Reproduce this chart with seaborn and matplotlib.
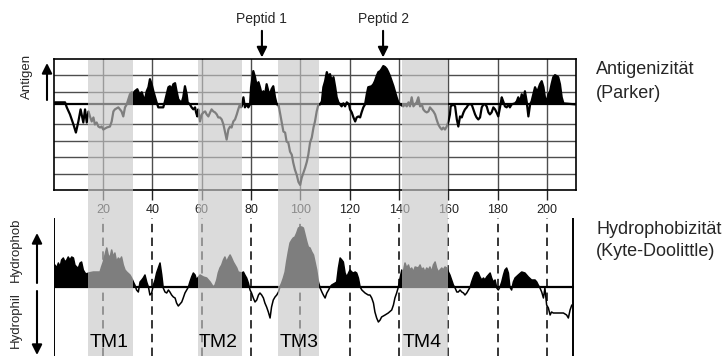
import numpy as np
import pandas as pd
import matplotlib
matplotlib.use("Agg")
import matplotlib.pyplot as plt
import seaborn as sns

# Parker antigenicity profile (residue position, value)
parker_pos = [
    0.5, 4.6, 5.3, 6.6, 8.0, 9.0, 10.0, 10.9, 11.6, 12.0, 12.7, 13.4,
    14.1, 14.7, 15.4, 16.1, 16.7, 17.4, 18.1, 18.8, 19.4, 20.1, 21.5, 22.8,
    23.5, 24.2, 24.8, 26.2, 27.5, 28.2, 28.9, 29.6, 30.9, 31.6, 32.3, 32.9,
    33.9, 34.7, 35.7, 36.3, 37.0, 37.7, 38.4, 39.0, 39.7, 40.4, 41.1, 41.7,
    42.4, 44.4, 45.1, 45.8, 46.5, 47.1, 47.8, 48.5, 49.2, 49.8, 50.5, 51.2,
    51.9, 52.5, 53.2, 53.9, 54.3, 55.2, 55.9, 56.6, 57.3, 57.7, 58.2, 58.6,
    59.3, 60.0, 60.7, 61.4, 62.0, 62.7, 63.4, 64.0, 64.7, 65.4, 66.1, 66.7,
    67.4, 68.1, 68.8, 69.4, 70.1, 70.8, 71.5, 72.1, 72.8, 73.5, 74.2, 74.8,
    75.5, 75.9, 76.2, 76.9, 77.5, 78.2, 78.9, 79.6, 80.0, 80.9, 81.6, 82.3,
    83.0, 83.6, 84.3, 85.0, 85.6, 86.3, 87.0, 87.7, 88.3, 89.0, 89.7, 90.4,
    91.1, 91.7, 92.4, 93.1, 93.8, 94.4, 95.1, 95.8, 96.5, 97.1, 97.8, 98.5,
    99.2, 99.9, 100.5, 101.2, 101.9, 102.6, 103.2, 103.9, 104.6, 105.3, 105.9, 106.6,
    107.3, 108.0, 108.7, 109.3, 110.0, 110.7, 111.4, 112.0, 112.7, 113.4, 114.1, 114.7,
    115.4, 116.7, 117.4, 118.1, 118.8, 119.7, 120.1, 120.8, 121.5, 122.2, 122.8, 123.5,
    124.2, 124.8, 125.5, 126.2, 126.9, 127.5, 128.9, 129.6, 130.2, 130.9, 131.6, 132.3,
    132.9, 133.6, 134.3, 135.0, 135.6, 136.3, 137.0, 137.7, 138.3, 139.0, 139.7, 140.4,
    141.7, 142.4, 143.1, 143.8, 144.4, 145.1, 145.8, 147.1, 147.8, 148.5, 149.2, 149.8,
    150.5, 151.2, 151.9, 152.5, 153.2, 153.9, 154.6, 155.2, 155.9, 156.6, 157.3, 157.9,
    158.6, 159.3, 160.0, 160.6, 160.9, 162.0, 162.7, 163.4, 164.0, 164.7, 165.4, 166.1,
    166.7, 167.4, 168.1, 169.4, 170.1, 170.8, 171.4, 172.1, 172.8, 173.5, 174.2, 174.8,
    175.5, 176.2, 176.8, 177.5, 178.2, 178.9, 179.5, 180.2, 180.9, 181.6, 182.2, 182.9,
    183.6, 184.3, 184.9, 185.6, 187.0, 187.7, 188.3, 189.0, 189.7, 190.4, 191.0, 191.7,
    192.4, 193.1, 193.7, 194.4, 195.1, 195.8, 196.4, 197.1, 197.8, 198.5, 199.1, 199.8,
    200.5, 201.2, 201.8, 202.5, 203.2, 203.9, 204.5, 205.2, 205.9, 206.6, 211.3,
]
parker_val = [
    2, 2, -3, -10, -20, -28, -17, -5, -13, -18, -5, -18,
    -7, -12, -17, -13, -20, -18, -22, -23, -22, -25, -23, -22,
    -17, -7, -5, -3, -7, -12, -3, 0, 10, 12, 11, 13,
    15, 10, 12, 7, 5, 13, 17, 25, 20, 13, 7, 2,
    -3, -3, 3, 10, 17, 18, 15, 20, 21, 13, 5, 3,
    2, 7, 18, 10, 2, 0, -3, -5, -3, -8, -12, -5,
    -17, -10, -8, -7, -10, -12, -8, -5, -7, -8, -10, -13,
    -13, -15, -20, -27, -35, -25, -22, -23, -17, -15, -10, -5,
    0, -3, -2, 7, -3, 0, -3, 0, 17, 33, 27, 18,
    22, 17, 10, 13, 8, 20, 13, 10, 15, 18, 7, 0,
    0, -8, -17, -27, -28, -37, -38, -47, -50, -58, -65, -70,
    -77, -80, -73, -68, -63, -57, -50, -38, -33, -23, -17, -7,
    0, 0, 3, 17, 23, 32, 27, 30, 23, 27, 17, 7,
    2, -2, 1, -2, 2, 0, -5, -8, -13, -17, -13, -12,
    -13, -8, -3, 0, 10, 17, 18, 20, 23, 28, 32, 33,
    35, 38, 37, 35, 32, 28, 23, 18, 13, 7, 2, 0,
    -2, 0, -2, 2, -2, 7, -2, 2, 7, -2, 0, -5,
    -7, -8, -7, -3, -5, -7, -10, -15, -20, -23, -25, -23,
    -25, -22, -17, -10, -2, 0, -2, -15, -22, -12, -13, -8,
    -5, -3, 0, 0, -5, -10, -13, -15, -13, -3, 0, 0,
    -2, -8, -10, -8, -3, -5, -8, -12, -3, 7, 3, -2,
    -3, 0, -3, 0, 1, 3, 7, 2, 10, 5, 13, 3,
    -12, 0, 3, 10, 17, 13, 15, 20, 23, 17, 7, 2,
    10, 13, 20, 27, 29, 28, 27, 20, 7, 1, 0,
]

# Kyte-Doolittle hydrophobicity profile (residue position, value)
kd_pos = [
    0.0, 0.5, 1.2, 1.9, 2.6, 3.2, 3.9, 4.6, 5.3, 5.9, 6.6, 7.3,
    8.0, 8.6, 9.3, 10.0, 10.7, 11.3, 12.0, 12.7, 13.4, 14.1, 16.1, 17.4,
    18.8, 19.4, 20.1, 20.8, 21.5, 22.1, 22.8, 23.5, 24.2, 24.8, 25.5, 26.2,
    26.9, 27.5, 28.2, 28.9, 29.6, 30.9, 31.6, 32.3, 32.9, 33.6, 34.3, 35.0,
    35.7, 36.3, 37.0, 37.7, 38.4, 39.0, 39.7, 40.4, 41.1, 41.7, 42.4, 43.1,
    43.8, 44.4, 45.1, 45.8, 46.5, 47.1, 47.8, 48.5, 49.2, 49.8, 50.5, 51.2,
    51.9, 52.5, 53.2, 53.9, 54.6, 55.2, 55.9, 56.6, 57.3, 57.9, 58.4, 59.3,
    60.7, 62.0, 63.4, 64.7, 65.4, 66.1, 66.7, 67.4, 68.1, 68.8, 69.4, 70.1,
    70.8, 71.5, 72.1, 72.8, 73.5, 74.2, 74.8, 76.2, 76.9, 77.5, 78.2, 78.9,
    79.6, 80.2, 80.9, 81.6, 82.3, 83.0, 83.6, 84.3, 85.0, 85.6, 86.3, 87.0,
    87.7, 88.3, 89.0, 89.7, 90.4, 91.1, 91.7, 92.4, 93.1, 93.8, 94.4, 95.1,
    95.8, 96.5, 97.1, 97.8, 98.5, 99.2, 99.9, 100.5, 101.2, 101.9, 102.6, 103.2,
    103.9, 104.6, 105.3, 105.9, 106.6, 107.3, 108.0, 108.7, 109.3, 110.0, 110.7, 111.4,
    112.0, 112.7, 114.1, 114.7, 115.4, 116.1, 116.8, 117.4, 118.1, 118.8, 119.5, 120.1,
    120.8, 121.5, 122.2, 122.8, 123.5, 124.2, 124.9, 126.2, 127.5, 128.2, 128.9, 129.6,
    130.2, 130.9, 131.6, 132.3, 132.9, 134.3, 135.6, 137.0, 137.7, 138.3, 139.0, 139.7,
    140.4, 141.1, 141.7, 142.4, 143.1, 143.8, 144.4, 145.1, 145.8, 146.5, 147.8, 148.5,
    149.2, 149.8, 150.5, 151.2, 151.9, 152.5, 153.2, 153.9, 154.6, 155.2, 155.9, 156.6,
    157.3, 157.9, 158.6, 159.3, 160.0, 160.6, 161.3, 162.0, 162.7, 163.4, 164.0, 164.7,
    165.4, 166.1, 166.7, 167.4, 168.1, 168.8, 169.4, 170.1, 170.8, 171.5, 172.1, 172.8,
    173.5, 174.2, 174.8, 175.5, 176.2, 176.9, 177.5, 178.2, 178.9, 179.6, 180.2, 180.9,
    181.6, 182.3, 182.9, 183.6, 184.3, 184.9, 185.6, 186.3, 187.0, 188.3, 189.7, 191.0,
    192.4, 193.7, 195.1, 195.8, 196.4, 197.1, 197.8, 198.5, 199.1, 199.8, 200.5, 201.2,
    201.8, 202.5, 203.9, 205.2, 206.6, 207.9, 208.6, 209.3, 210.0,
]
kd_val = [
    14, 22, 19, 24, 20, 27, 29, 25, 27, 30, 27, 30,
    29, 22, 20, 19, 24, 25, 17, 14, 13, 14, 15, 15,
    15, 20, 25, 32, 39, 32, 29, 37, 30, 34, 25, 29,
    27, 30, 22, 17, 15, 12, 9, 5, 2, -3, -5, 5,
    7, 9, 12, 5, 0, -8, -6, 2, 7, 14, 19, 24,
    12, -1, -5, -6, -3, -5, -8, -10, -11, -16, -19, -17,
    -15, -11, -6, -3, 0, 5, 10, 14, 12, 7, 9, 12,
    10, 9, 5, 0, 2, 7, 14, 19, 22, 27, 30, 25,
    29, 32, 29, 25, 22, 19, 15, 14, 15, 12, 9, 4,
    -3, -6, -11, -15, -13, -8, -6, -8, -11, -16, -20, -25,
    -31, -20, -13, -10, -8, -5, 0, 4, 9, 15, 25, 35,
    44, 47, 49, 50, 54, 59, 60, 60, 59, 52, 45, 40,
    39, 35, 32, 25, 17, 5, -1, -5, -8, -11, -6, -3,
    0, 2, 4, 5, 19, 29, 27, 25, 14, 10, 14, 17,
    15, 14, 15, 14, 9, 0, -3, -6, -8, -8, -11, -16,
    -25, -31, -35, -33, -30, -28, -26, -23, -18, -11, -6, 0,
    9, 17, 15, 24, 19, 22, 17, 19, 15, 20, 19, 22,
    17, 19, 15, 19, 17, 20, 15, 22, 25, 19, 15, 17,
    19, 17, 20, 19, 15, 12, 7, 2, -1, -5, -5, -3,
    -5, -6, -8, -6, -3, 0, 5, 10, 14, 15, 14, 10,
    7, 9, 7, 10, 12, 14, 9, 5, 7, -1, -3, 0,
    5, 12, 17, 19, 14, 0, -3, 5, 9, 12, 15, 14,
    10, 7, 7, 5, 2, -1, -5, -11, -1, -18, -21, -28,
    -25, -26, -26, -26, -26, -28, -31, -23, -18,
]

tm_labels = ["TM1", "TM2", "TM3", "TM4"]
tm_start = [14.0, 58.3, 91.0, 141.0]
tm_end = [32.1, 76.3, 107.5, 159.8]

peptide_labels = ["Peptid 1", "Peptid 2"]
peptide_pos = [84.4, 133.5]

x_ticks = [20, 40, 60, 80, 100, 120, 140, 160, 180, 200]

sns.set_theme(style="white")
plt.rcParams["font.family"] = ["Liberation Sans", "DejaVu Sans"]

W, H = 728, 356
XMAX = 211.7
fig = plt.figure(figsize=(W / 100, H / 100), dpi=100)


def box(x0, y0, x1, y1):
    # pixel box (origin top-left) -> figure fraction rect
    return [x0 / W, 1 - y1 / H, (x1 - x0) / W, (y1 - y0) / H]


ax1 = fig.add_axes(box(53.7, 59, 576, 190))
ax2 = fig.add_axes(box(53.7, 218, 576, 356))
ov = fig.add_axes(box(53.7, 60, 576, 356), zorder=5)

top = pd.DataFrame({"pos": parker_pos, "val": parker_val})
bot = pd.DataFrame({"pos": kd_pos, "val": kd_val})

# --- top panel: antigenicity
for y in np.linspace(-85, 45, 9)[1:-1]:
    if abs(y) > 5:
        ax1.axhline(y, color="#4d4d4d", lw=1.0, zorder=0)
for x in x_ticks:
    ax1.axvline(x, color="#4d4d4d", lw=1.0, zorder=0)
ax1.fill_between(top["pos"], top["val"], 0, where=top["val"] > 0,
                 interpolate=True, color="black", lw=0, zorder=2)
sns.lineplot(data=top, x="pos", y="val", ax=ax1, color="black", lw=1.6,
             sort=False, estimator=None, zorder=3)
ax1.axhline(0, color="black", lw=1.6, zorder=3)
ax1.set_xlim(0, XMAX)
ax1.set_ylim(-85, 45)
ax1.set_xticks(x_ticks)
ax1.set_yticks([])
ax1.set_xlabel("")
ax1.set_ylabel("")
ax1.tick_params(axis="x", bottom=True, direction="out", length=7, width=1,
                color="#222222", labelsize=9, labelcolor="#222222", pad=3)
for s in ax1.spines.values():
    s.set_color("black")
    s.set_linewidth(1.2)

for lab, p in zip(peptide_labels, peptide_pos):
    ax1.annotate("", xy=(p, 1.012), xytext=(p, 1.215),
                 xycoords=("data", "axes fraction"),
                 arrowprops=dict(arrowstyle="-|>", color="black", lw=1.5,
                                 mutation_scale=15, shrinkA=0, shrinkB=0))
    ax1.annotate(lab, xy=(p, 1.305), xycoords=("data", "axes fraction"),
                 ha="center", va="center", fontsize=10)

# --- bottom panel: hydrophobicity
for x in x_ticks:
    ax2.axvline(x, color="black", lw=1.1, dashes=(5.5, 3.5), zorder=1)
ax2.fill_between(bot["pos"], bot["val"], 0, where=bot["val"] > 0,
                 interpolate=True, color="black", lw=0, zorder=2)
sns.lineplot(data=bot, x="pos", y="val", ax=ax2, color="black", lw=1.1,
             sort=False, estimator=None, zorder=3)
ax2.plot([0, 210.5], [0, 0], color="black", lw=1.6, zorder=3)
ax2.axvline(0, color="black", lw=1.4)
ax2.axvline(210.5, color="black", lw=1.4)
ax2.set_xlim(0, XMAX)
ax2.set_ylim(-69, 69)
ax2.axis("off")

# --- transmembrane bands drawn over both panels
ov.patch.set_alpha(0)
for s, e in zip(tm_start, tm_end):
    ov.axvspan(s, e, color=(0.78, 0.78, 0.78), alpha=0.64, lw=0)
for lab, s in zip(tm_labels, tm_start):
    ov.text(s + 0.4, 0.044, lab, fontsize=14, ha="left", va="center",
            color="black", zorder=10)
ov.set_xlim(0, XMAX)
ov.set_ylim(0, 1)
ov.axis("off")

# --- side annotations
arrow = dict(arrowstyle="-|>", color="black", lw=1.5, mutation_scale=15,
             shrinkA=0, shrinkB=0)
ax1.annotate("", xy=(47, H - 63), xytext=(47, H - 100),
             xycoords="figure pixels", arrowprops=arrow)
ax2.annotate("", xy=(37, H - 233), xytext=(37, H - 283),
             xycoords="figure pixels", arrowprops=arrow)
ax2.annotate("", xy=(37, H - 355), xytext=(37, H - 291),
             xycoords="figure pixels", arrowprops=arrow)
fig.text(27 / W, 1 - 76 / H, "Antigen", rotation=90, ha="center",
         va="center", fontsize=9.5)
fig.text(16 / W, 1 - 250 / H, "Hydrophob", rotation=90, ha="center",
         va="center", fontsize=9.5)
fig.text(16 / W, 1 - 320 / H, "Hydrophil", rotation=90, ha="center",
         va="center", fontsize=9.5)

fig.text(596 / W, 1 - 70 / H, "Antigenizität", ha="left", va="center", fontsize=13)
fig.text(596 / W, 1 - 93 / H, "(Parker)", ha="left", va="center", fontsize=13)
fig.text(596 / W, 1 - 230 / H, "Hydrophobizität", ha="left", va="center", fontsize=13)
fig.text(596 / W, 1 - 252 / H, "(Kyte-Doolittle)", ha="left", va="center", fontsize=13)

fig.savefig("out.png", dpi=100)
